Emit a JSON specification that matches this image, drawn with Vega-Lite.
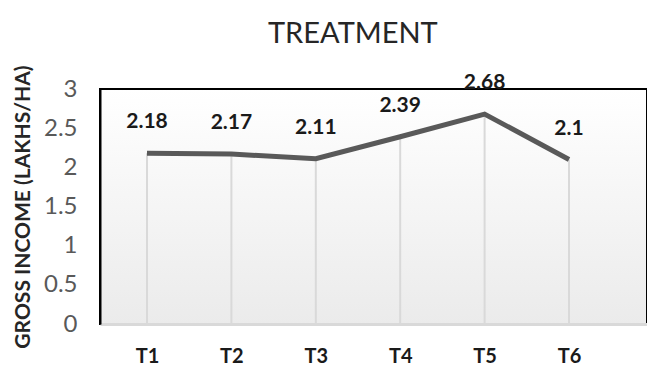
{
  "$schema": "https://vega.github.io/schema/vega-lite/v6.json",
  "width": 547,
  "height": 235,
  "autosize": "none",
  "padding": {"left": 100, "top": 89, "right": 0, "bottom": 42},
  "background": "white",
  "title": {
    "text": "TREATMENT",
    "font": "Lato",
    "fontSize": 29,
    "fontWeight": "normal",
    "color": "#262626",
    "anchor": "start",
    "frame": "group",
    "dx": 168,
    "offset": 16
  },
  "config": {
    "font": "Lato",
    "view": {
      "stroke": "black",
      "strokeWidth": 2,
      "fill": {
        "gradient": "linear",
        "x1": 0, "y1": 0, "x2": 0, "y2": 1,
        "stops": [
          {"offset": 0, "color": "#ffffff"},
          {"offset": 1, "color": "#ebebeb"}
        ]
      }
    }
  },
  "data": {
    "values": [
      {"t": "T1", "v": 2.18},
      {"t": "T2", "v": 2.17},
      {"t": "T3", "v": 2.11},
      {"t": "T4", "v": 2.39},
      {"t": "T5", "v": 2.68},
      {"t": "T6", "v": 2.1}
    ]
  },
  "encoding": {
    "x": {
      "field": "t",
      "type": "ordinal",
      "sort": null,
      "scale": {"type": "point", "padding": 0.7405, "align": 0.376},
      "axis": {
        "title": null,
        "labelAngle": 0,
        "labelFont": "Lato",
        "labelFontSize": 20,
        "labelFontWeight": "bold",
        "labelColor": "#1a1a1a",
        "labelPadding": 22,
        "labelDx": -2,
        "ticks": false,
        "grid": false,
        "domainColor": "#d9d9d9",
        "domainWidth": 3
      }
    },
    "y": {
      "field": "v",
      "type": "quantitative",
      "scale": {"domain": [0, 3]},
      "axis": {
        "title": "GROSS INCOME (LAKHS/HA)",
        "titleFont": "Lato",
        "titleFontSize": 21,
        "titleFontWeight": "bold",
        "titleColor": "#262626",
        "titlePadding": 10,
        "values": [0, 0.5, 1, 1.5, 2, 2.5, 3],
        "format": "~g",
        "labelOverlap": false,
        "labelFont": "Lato",
        "labelFontSize": 24,
        "labelColor": "#595959",
        "labelPadding": 23,
        "ticks": false,
        "grid": false,
        "domainColor": "black",
        "domainWidth": 2
      }
    }
  },
  "layer": [
    {
      "mark": {"type": "rule", "color": "#d9d9d9", "strokeWidth": 2},
      "encoding": {
        "y2": {"datum": 0}
      }
    },
    {
      "mark": {"type": "line", "color": "#595959", "strokeWidth": 5},
      "encoding": {}
    },
    {
      "mark": {
        "type": "text",
        "font": "Lato",
        "fontSize": 21,
        "fontWeight": "bold",
        "color": "#1a1a1a",
        "baseline": "alphabetic",
        "dy": -25
      },
      "encoding": {
        "text": {"field": "v", "type": "quantitative"}
      }
    }
  ]
}
